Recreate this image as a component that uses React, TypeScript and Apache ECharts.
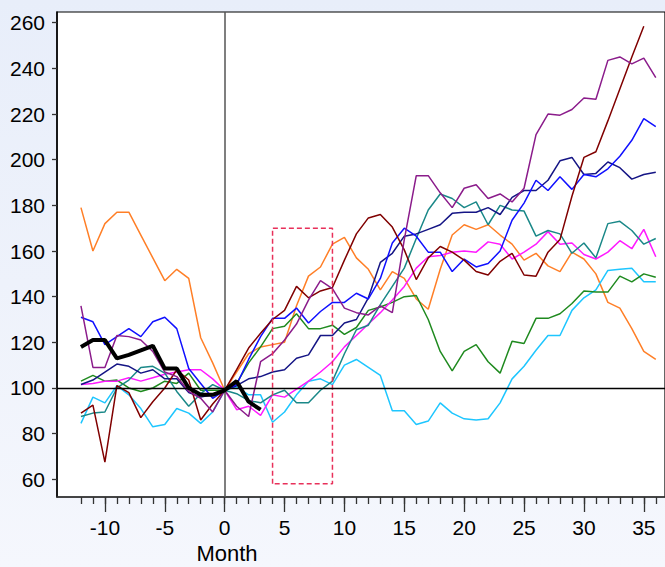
import React, { useEffect, useRef } from "react";
import * as echarts from "echarts";

const months = [-12, -11, -10, -9, -8, -7, -6, -5, -4, -3, -2, -1, 0, 1, 2, 3, 4, 5, 6, 7, 8, 9, 10, 11, 12, 13, 14, 15, 16, 17, 18, 19, 20, 21, 22, 23, 24, 25, 26, 27, 28, 29, 30, 31, 32, 33, 34, 35, 36];

const xMinorTicks = [-12, -11, -10, -9, -8, -7, -6, -5, -4, -3, -2, -1, 0, 1, 2, 3, 4, 5, 6, 7, 8, 9, 10, 11, 12, 13, 14, 15, 16, 17, 18, 19, 20, 21, 22, 23, 24, 25, 26, 27, 28, 29, 30, 31, 32, 33, 34, 35, 36];
const xMajorTicks = [-10, -5, 0, 5, 10, 15, 20, 25, 30, 35];
const yTicks = [60, 80, 100, 120, 140, 160, 180, 200, 220, 240, 260];

const orange = [179, 160, 172, 177, 177, 167, 157, 147, 152, 148, 122, 111, 99, 107, 115, 118, 119, 120, 136, 149, 153, 163, 166, 157, 152, 143, 151, 148, 139, 134.5, 152, 167, 171.5, 169.5, 171.5, 167, 163, 156, 159, 153.5, 151, 159.5, 156.5, 150, 137.5, 135, 126, 116, 112.5];
const purple = [136, 109, 109, 123, 122.5, 121, 116, 107, 105, 98.5, 95.5, 89.5, 99, 92, 87.5, 111.5, 115, 121, 128, 138.5, 147, 143.5, 135, 133, 132, 136, 133, 165, 193, 193, 185.5, 179, 187.5, 189, 183, 185, 181.5, 187.5, 211, 220, 219.5, 222, 227, 226.5, 243.5, 245, 242, 244.5, 236];
const maroon = [89, 92.5, 67.5, 101, 98, 87, 94, 100, 108, 103.5, 86, 93, 99, 108, 117.5, 124, 130, 134, 144.5, 139.5, 142.5, 144, 156, 167.5, 174.5, 176, 170.5, 160.5, 147.5, 157, 162, 159.5, 156, 151, 149.5, 155.5, 159, 149.5, 149, 159.5, 165, 184, 201, 203.5, 217, 231, 245, 258.5, null];
const blue = [131, 129, 119, 122.5, 126, 122.5, 129, 131, 126, 108.5, 102, 95.5, 99, 101.5, 112.5, 122.5, 130.5, 130.5, 135, 128.5, 133.5, 137.5, 137.5, 141.5, 139, 148, 163.5, 170, 166.5, 159.5, 159.5, 151, 156.5, 153, 154.5, 160, 173.5, 181, 191, 186.5, 192.5, 187, 193.5, 192.5, 196, 201.5, 208.5, 218, 214.5];
const navy = [101.5, 103.5, 107, 110.5, 109.5, 106.5, 108, 104, 104, 98, 96, 97, 99, 101, 104, 105, 107, 108, 113, 114.5, 123, 123, 128.5, 130, 139.5, 155, 159, 166.5, 167.5, 169.5, 171.5, 176.5, 177, 177, 179, 176, 183.5, 186.5, 186.5, 191, 199.5, 201, 193.5, 194, 199, 196.5, 191.5, 193.5, 194.5];
const teal = [87.5, 89, 89.5, 100, 103.5, 109, 109.5, 106.5, 98.5, 92, 97.5, 101.5, 99, 97.5, 94.5, 93.5, 97, 99, 93.5, 93.5, 99, 103, 115, 125.5, 127.5, 136.5, 144.5, 152.5, 165.5, 178, 185, 183, 179, 181.5, 171.5, 180, 178, 177.5, 166.5, 169, 167.5, 159, 163.5, 157, 172, 173, 169, 163, 165.5];
const green = [103, 105.5, 103, 103.5, 100, 98.5, 100, 103, 102, 106.5, 99, 99, 99, 102, 111, 118, 126, 127, 132.5, 126, 126, 127.5, 123.5, 126.5, 134, 135.5, 137.5, 140, 140.5, 130, 116, 107.5, 116, 119, 111.5, 106.5, 120.5, 119.5, 130.5, 130.5, 132.5, 137, 142.5, 142, 142, 149, 146.5, 150, 148.5];
const magenta = [101.5, 102, 103, 103, 104.5, 103, 104.5, 106, 107, 108, 108, 104, 99, 90.5, 92, 88, 97, 96, 99.5, 103, 107, 111.5, 118, 123, 128, 133, 138.5, 144.5, 152.5, 157.5, 158, 159.5, 160, 159.5, 164, 163, 156.5, 159.5, 163, 168.5, 163, 163.5, 158.5, 156.5, 159.5, 164.5, 161, 169.5, 157.5];
const cyan = [84.5, 96, 93.5, 101, 97, 91, 83, 84, 91, 89, 84.5, 89.5, 99, 100.5, 97, 97, 85, 89.5, 97, 103, 104, 101.5, 110, 112.5, 109, 105.5, 90, 90, 84, 85.5, 93.5, 89, 86.5, 86, 86.5, 93.5, 104, 109.5, 116.5, 123, 123, 134, 139.5, 143, 151.5, 152, 152.5, 146.5, 146.5];
const black = [118, 121, 121, 113, 114.5, 116.5, 118.5, 108.5, 108.5, 100, 97, 97, 99, 103, 94, 90.5];

const boxX = [4, 4, 9, 9, 4];
const boxY = [58, 170, 170, 58, 58];

const refX = 0;
const refY = 100;

export default function App() {
  const ref = useRef<HTMLDivElement>(null);
  useEffect(() => {
    const chart = echarts.init(ref.current as HTMLDivElement, undefined, { renderer: "svg" });
    const pair = (vals: (number | null)[]) => vals.map((v, i) => [months[i], v]);
    const thin = (name: string, color: string, vals: (number | null)[], extra: any = {}) => ({
      type: "line",
      name,
      data: pair(vals),
      showSymbol: false,
      symbol: "none",
      silent: true,
      lineStyle: { color, width: 1.5 },
      itemStyle: { color },
      z: 3,
      ...extra,
    });
    const font = "'Liberation Sans', Arial, sans-serif";
    chart.setOption({
      animation: false,
      backgroundColor: "transparent",
      textStyle: { fontFamily: font },
      grid: {
        left: 57,
        top: 12,
        right: -2,
        bottom: 70,
        show: true,
        backgroundColor: "#ffffff",
        borderColor: "#000000",
        borderWidth: 1.2,
      },
      xAxis: [
        {
          type: "value",
          min: -14,
          max: 36.77,
          axisLine: { show: true, onZero: false, lineStyle: { color: "#333", width: 1.5 } },
          axisTick: { show: true, customValues: xMinorTicks, length: 7, lineStyle: { color: "#333", width: 1.3 } },
          axisLabel: { show: false },
          splitLine: { show: false },
        },
        {
          type: "value",
          min: -14,
          max: 36.77,
          position: "bottom",
          axisLine: { show: false, onZero: false },
          axisTick: { show: true, customValues: xMajorTicks, length: 15, lineStyle: { color: "#333", width: 1.3 } },
          axisLabel: { show: true, customValues: xMajorTicks, fontSize: 21, color: "#000", margin: 20, fontFamily: font },
          splitLine: { show: false },
        },
      ],
      yAxis: {
        type: "value",
        min: 52.25,
        max: 264.7,
        axisLine: { show: true, onZero: false, lineStyle: { color: "#000", width: 1.5 } },
        axisTick: { show: true, customValues: yTicks, length: 5, lineStyle: { color: "#333", width: 1.3 } },
        axisLabel: { show: true, customValues: yTicks, fontSize: 21, color: "#000", margin: 12, fontFamily: font },
        splitLine: { show: false },
      },
      graphic: [
        {
          type: "text",
          x: 227,
          y: 553,
          style: {
            text: "Month",
            fontSize: 22,
            fontFamily: font,
            fill: "#000",
            textAlign: "center",
            textVerticalAlign: "middle",
          },
        },
      ],
      series: [
        {
          type: "line",
          data: [],
          silent: true,
          markLine: {
            silent: true,
            symbol: ["none", "none"],
            label: { show: false },
            data: [
              { xAxis: refX, lineStyle: { color: "#555", width: 1.5, type: "solid" } },
              { yAxis: refY, lineStyle: { color: "#000", width: 1.3, type: "solid" } },
            ],
          },
          z: 2,
        },
        thin("orange", "#ff7f27", orange),
        thin("cyan", "#1ec6ff", cyan),
        thin("green", "#1f8a1f", green),
        thin("magenta", "#ff1aff", magenta),
        thin("teal", "#1a8888", teal),
        thin("navy", "#151585", navy),
        thin("blue", "#1010ff", blue),
        thin("maroon", "#800000", maroon),
        thin("purple", "#8b1c8b", purple),
        {
          type: "line",
          name: "box",
          data: boxX.map((x, i) => [x, boxY[i]]),
          showSymbol: false,
          symbol: "none",
          silent: true,
          lineStyle: { color: "#e8305a", width: 1.5, type: [5, 3] },
          z: 4,
        },
        {
          type: "line",
          name: "black",
          data: black.map((v, i) => [months[i], v]),
          showSymbol: false,
          symbol: "none",
          silent: true,
          lineStyle: { color: "#000", width: 4 },
          z: 5,
        },
      ],
    });
    return () => chart.dispose();
  }, []);
  return (
    <div
      ref={ref}
      style={{
        position: "fixed",
        left: 0,
        top: 0,
        width: 665,
        height: 567,
        background: "linear-gradient(180deg, #e8eefa 0%, #eef2fb 50%, #f5f7fd 100%)",
      }}
    />
  );
}
